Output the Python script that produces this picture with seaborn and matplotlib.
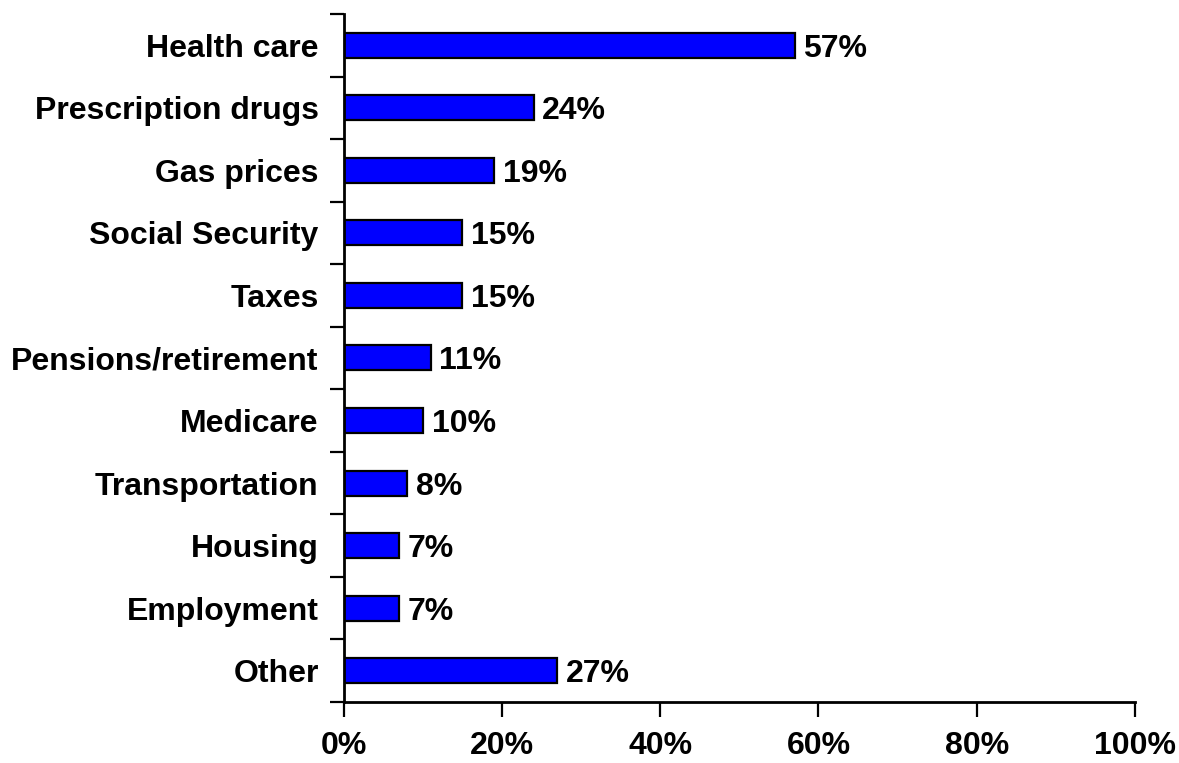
import matplotlib
matplotlib.use("Agg")
import matplotlib.pyplot as plt
import seaborn as sns
import pandas as pd

categories = ["Health care", "Prescription drugs", "Gas prices", "Social Security",
              "Taxes", "Pensions/retirement", "Medicare", "Transportation",
              "Housing", "Employment", "Other"]
values = [57, 24, 19, 15, 15, 11, 10, 8, 7, 7, 27]
xticks = [0, 20, 40, 60, 80, 100]

sns.set_theme(style="white")
plt.rcParams["font.family"] = ["Liberation Sans", "DejaVu Sans"]
plt.rcParams["font.weight"] = "bold"
plt.rcParams["text.color"] = "black"
plt.rcParams["xtick.color"] = "black"
plt.rcParams["ytick.color"] = "black"

df = pd.DataFrame({"issue": categories, "pct": values})

fig = plt.figure(figsize=(11.79, 7.63), dpi=100)
ax = fig.add_axes([0.2915, 0.08, 0.6712, 0.9017])

sns.barplot(data=df, x="pct", y="issue", orient="h", color="#0000FF",
            saturation=1, width=0.4, edgecolor="black", linewidth=1.6, ax=ax)

FS = 23
for i, v in enumerate(values):
    ax.text(v + 1.1, i, f"{v}%", va="center_baseline", ha="left",
            fontsize=FS, fontweight="bold", color="black")

ax.set_xlim(0, 100)
ax.set_ylim(len(categories) - 0.5, -0.5)
ax.set_xticks(xticks)
ax.set_xticklabels([f"{t}%" for t in xticks], fontsize=FS, fontweight="bold")
ax.set_yticks([i - 0.5 for i in range(len(categories) + 1)], minor=False)
ax.set_yticklabels([])
ax.set_yticks(range(len(categories)), minor=True)
ax.set_yticklabels(categories, minor=True, fontsize=FS, fontweight="bold",
                   va="center_baseline")
ax.tick_params(axis="y", which="major", left=True, length=10, width=1.6, color="black")
ax.tick_params(axis="y", which="minor", left=False, length=0, pad=18)
ax.tick_params(axis="x", bottom=True, length=11, width=1.6, color="black", pad=10)
ax.set_xlabel("")
ax.set_ylabel("")

for side in ["top", "right"]:
    ax.spines[side].set_visible(False)
for side in ["left", "bottom"]:
    ax.spines[side].set_color("black")
    ax.spines[side].set_linewidth(2)

fig.savefig("out.png", dpi=100, facecolor="white")
